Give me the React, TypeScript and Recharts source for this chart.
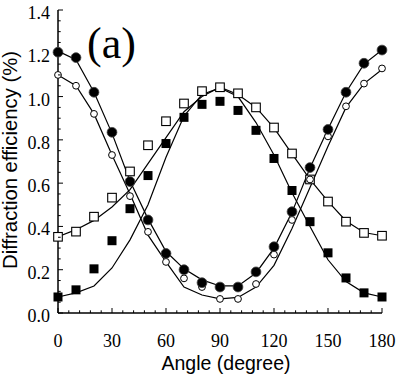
import { ComposedChart, Line, Scatter, XAxis, YAxis } from "recharts";

// measured points, every 10 degrees
const angles = [0, 10, 20, 30, 40, 50, 60, 70, 80, 90, 100, 110, 120, 130, 140, 150, 160, 170, 180];
const filledCircles = [1.205, 1.18, 1.02, 0.835, 0.607, 0.43, 0.275, 0.2, 0.14, 0.12, 0.12, 0.19, 0.306, 0.468, 0.672, 0.848, 1.02, 1.154, 1.215];
const openCircles = [1.1, 1.05, 0.92, 0.73, 0.54, 0.375, 0.236, 0.16, 0.12, 0.065, 0.065, 0.134, 0.27, 0.43, 0.617, 0.816, 0.955, 1.06, 1.13];
const openSquares = [0.352, 0.376, 0.445, 0.533, 0.654, 0.775, 0.886, 0.968, 1.025, 1.043, 1.015, 0.95, 0.857, 0.737, 0.617, 0.515, 0.422, 0.37, 0.357];
const filledSquares = [0.074, 0.107, 0.204, 0.334, 0.482, 0.635, 0.783, 0.904, 0.964, 0.978, 0.936, 0.844, 0.714, 0.566, 0.422, 0.278, 0.162, 0.093, 0.074];

// fitted curves
const fitFilledCircles = [1.21, 1.17, 1.02, 0.83, 0.61, 0.435, 0.284, 0.204, 0.153, 0.125, 0.125, 0.185, 0.3, 0.465, 0.67, 0.85, 1.02, 1.15, 1.215];
const fitOpenCircles = [1.1, 1.05, 0.92, 0.73, 0.55, 0.36, 0.236, 0.12, 0.083, 0.065, 0.072, 0.12, 0.22, 0.39, 0.58, 0.77, 0.95, 1.06, 1.125];
const fitOpenSquares = [0.352, 0.385, 0.428, 0.49, 0.57, 0.69, 0.81, 0.93, 1.0, 1.043, 1.01, 0.95, 0.855, 0.735, 0.617, 0.516, 0.425, 0.372, 0.357];
const fitFilledSquares = [0.074, 0.093, 0.125, 0.208, 0.338, 0.5, 0.72, 0.91, 1.01, 1.04, 1.0, 0.88, 0.73, 0.556, 0.4, 0.246, 0.145, 0.093, 0.074];

const xLabels = [0, 30, 60, 90, 120, 150, 180];
const yLabels = [0, 0.2, 0.4, 0.6, 0.8, 1.0, 1.2, 1.4];
const xTicks = Array.from({ length: 31 }, (_, i) => i * 6);
const yTicks = Array.from({ length: 29 }, (_, i) => Math.round(i * 5) / 100);

const rows = angles.map((angle, i) => ({
  angle,
  fc: filledCircles[i],
  oc: openCircles[i],
  os: openSquares[i],
  fs: filledSquares[i],
  ffc: fitFilledCircles[i],
  foc: fitOpenCircles[i],
  fos: fitOpenSquares[i],
  ffs: fitFilledSquares[i],
}));

const serif = "'Liberation Serif', 'Times New Roman', serif";
const sans = "'Liberation Sans', Arial, sans-serif";

const isMajorX = (v: number) => xLabels.includes(v);
const isMajorY = (v: number) => yLabels.some((l) => Math.abs(l - v) < 1e-6);

const BottomTick = (p: any) => {
  const v = p.payload.value;
  const len = isMajorX(v) ? 5 : 2.7;
  return (
    <g>
      <line x1={p.x} x2={p.x} y1={p.y} y2={p.y - len} stroke="#000" strokeWidth={1} />
      {isMajorX(v) && (
        <text x={p.x} y={p.y + 34} textAnchor="middle" fontFamily={serif} fontSize={18} fill="#000">
          {v}
        </text>
      )}
    </g>
  );
};

const TopTick = (p: any) => {
  const len = isMajorX(p.payload.value) ? 5 : 2.7;
  return <line x1={p.x} x2={p.x} y1={p.y} y2={p.y + len} stroke="#000" strokeWidth={1} />;
};

const LeftTick = (p: any) => {
  const v = p.payload.value;
  const len = isMajorY(v) ? 5 : 2.7;
  return (
    <g>
      <line x1={p.x} x2={p.x + len} y1={p.y} y2={p.y} stroke="#000" strokeWidth={1} />
      {isMajorY(v) && (
        <text x={p.x - 8} y={p.y + 9} textAnchor="end" fontFamily={serif} fontSize={18} fill="#000">
          {v.toFixed(1)}
        </text>
      )}
    </g>
  );
};

const RightTick = (p: any) => {
  const len = isMajorY(p.payload.value) ? 5 : 2.7;
  return <line x1={p.x} x2={p.x - len} y1={p.y} y2={p.y} stroke="#000" strokeWidth={1} />;
};

const FilledCircle = (p: any) => <circle cx={p.cx} cy={p.cy} r={4.9} fill="#000" stroke="#444" strokeWidth={0.8} />;
const OpenCircle = (p: any) => <circle cx={p.cx} cy={p.cy} r={3.4} fill="#fff" stroke="#000" strokeWidth={1} />;
const OpenSquare = (p: any) => <rect x={p.cx - 4.3} y={p.cy - 4.3} width={8.6} height={8.6} fill="#fff" stroke="#000" strokeWidth={1.1} />;
const FilledSquare = (p: any) => <rect x={p.cx - 4.5} y={p.cy - 4.5} width={9} height={9} fill="#000" />;

const axisLine = { stroke: "#000", strokeWidth: 1.5 };

export default function App() {
  return (
    <div style={{ position: "absolute", left: 0, top: 0, width: 400, height: 374, background: "#fff" }}>
      <ComposedChart width={400} height={374} data={rows} margin={{ top: 10, right: 18, bottom: 0, left: 0 }}>
        <XAxis
          xAxisId="b"
          dataKey="angle"
          type="number"
          domain={[0, 180]}
          ticks={xTicks}
          interval={0}
          height={61}
          tickSize={0}
          tickMargin={0}
          tickLine={false}
          axisLine={axisLine}
          tick={BottomTick}
        />
        <XAxis
          xAxisId="t"
          orientation="top"
          dataKey="angle"
          type="number"
          domain={[0, 180]}
          ticks={xTicks}
          interval={0}
          height={0}
          tickSize={0}
          tickMargin={0}
          tickLine={false}
          axisLine={axisLine}
          tick={TopTick}
        />
        <YAxis
          yAxisId="l"
          type="number"
          domain={[0, 1.4]}
          ticks={yTicks}
          interval={0}
          width={58}
          tickSize={0}
          tickMargin={0}
          tickLine={false}
          axisLine={axisLine}
          tick={LeftTick}
        />
        <YAxis
          yAxisId="r"
          orientation="right"
          type="number"
          domain={[0, 1.4]}
          ticks={yTicks}
          interval={0}
          width={0}
          tickSize={0}
          tickMargin={0}
          tickLine={false}
          axisLine={axisLine}
          tick={RightTick}
        />

        <Line xAxisId="b" yAxisId="l" dataKey="ffc" stroke="#000" strokeWidth={1.2} dot={false} isAnimationActive={false} />
        <Line xAxisId="b" yAxisId="l" dataKey="foc" stroke="#000" strokeWidth={1.2} dot={false} isAnimationActive={false} />
        <Line xAxisId="b" yAxisId="l" dataKey="fos" stroke="#000" strokeWidth={1.2} dot={false} isAnimationActive={false} />
        <Line xAxisId="b" yAxisId="l" dataKey="ffs" stroke="#000" strokeWidth={1.2} dot={false} isAnimationActive={false} />

        <Scatter xAxisId="b" yAxisId="l" dataKey="os" shape={OpenSquare} isAnimationActive={false} />
        <Scatter xAxisId="b" yAxisId="l" dataKey="fs" shape={FilledSquare} isAnimationActive={false} />
        <Scatter xAxisId="b" yAxisId="l" dataKey="oc" shape={OpenCircle} isAnimationActive={false} />
        <Scatter xAxisId="b" yAxisId="l" dataKey="fc" shape={FilledCircle} isAnimationActive={false} />

        <text x={87} y={58} fontFamily={serif} fontSize={44} fill="#000">
          (a)
        </text>
        <text x={226} y={370} textAnchor="middle" fontFamily={sans} fontSize={19.5} fill="#000">
          Angle (degree)
        </text>
        <text
          x={17}
          y={160}
          transform="rotate(-90 17 160)"
          textAnchor="middle"
          fontFamily={sans}
          fontSize={20.3}
          fill="#000"
        >
          Diffraction efficiency (%)
        </text>
      </ComposedChart>
    </div>
  );
}
